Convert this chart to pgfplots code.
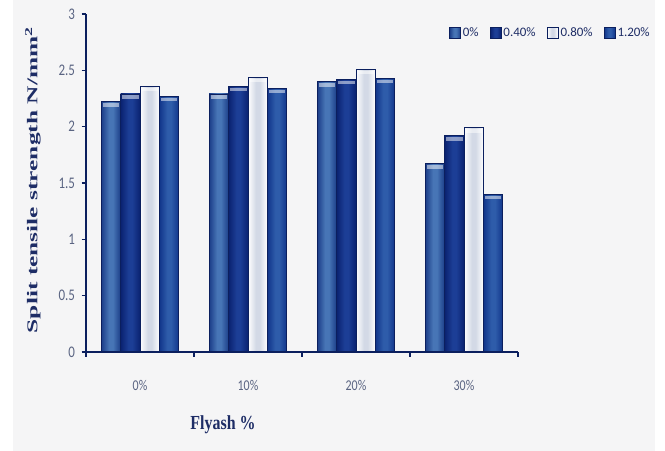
\documentclass[border=0pt]{standalone}
\usepackage{pgfplots}
\usepackage{pgfplotstable}
\pgfplotsset{compat=1.18}
\usepackage{fontspec}
\setmainfont{Liberation Serif}
\newfontfamily\calib{Carlito}

\definecolor{navy}{HTML}{0B1F5E}
\definecolor{bgray}{HTML}{F5F5F6}
\definecolor{labcol}{HTML}{1E2D66}
\definecolor{tickcol}{HTML}{5A6482}
% bar colours: edge / centre
\definecolor{aEdge}{HTML}{1B3D88}
\definecolor{aMid}{HTML}{4775B6}
\definecolor{bEdge}{HTML}{0A2270}
\definecolor{bMid}{HTML}{1C3E96}
\definecolor{cEdge}{HTML}{FFFFFF}
\definecolor{cMid}{HTML}{D3D9E6}
\definecolor{dEdge}{HTML}{11358A}
\definecolor{dMid}{HTML}{2E5CAA}

% the visible part of a shading is its central 25bp..75bp band
\pgfdeclarehorizontalshading{shA}{100bp}{color(0bp)=(aEdge); color(25bp)=(aEdge); color(45bp)=(aMid); color(55bp)=(aMid); color(75bp)=(aEdge); color(100bp)=(aEdge)}
\pgfdeclarehorizontalshading{shB}{100bp}{color(0bp)=(bEdge); color(25bp)=(bEdge); color(45bp)=(bMid); color(55bp)=(bMid); color(75bp)=(bEdge); color(100bp)=(bEdge)}
\pgfdeclarehorizontalshading{shC}{100bp}{color(0bp)=(cEdge); color(25bp)=(cEdge); color(45bp)=(cMid); color(55bp)=(cMid); color(75bp)=(cEdge); color(100bp)=(cEdge)}
\pgfdeclarehorizontalshading{shD}{100bp}{color(0bp)=(dEdge); color(25bp)=(dEdge); color(45bp)=(dMid); color(55bp)=(dMid); color(75bp)=(dEdge); color(100bp)=(dEdge)}

% split tensile strength per fly ash level (0,10,20,30 %), one table per fibre content
\pgfplotstableread{
x y
0 2.22
1 2.29
2 2.40
3 1.67
}\dataA
\pgfplotstableread{
x y
0 2.29
1 2.36
2 2.42
3 1.92
}\dataB
\pgfplotstableread{
x y
0 2.36
1 2.44
2 2.51
3 1.99
}\dataC
\pgfplotstableread{
x y
0 2.27
1 2.34
2 2.43
3 1.40
}\dataD

% light band just under the top edge of a bar (basic-layer drawing)
\newcommand\barcap{%
  \pgfsetfillcolor{white}\pgfsetfillopacity{0.5}%
  \pgfpathrectanglecorners
    {\pgfpointadd{\pgfpointanchor{path picture bounding box}{north west}}{\pgfpoint{1.5bp}{-1.5bp}}}%
    {\pgfpointadd{\pgfpointanchor{path picture bounding box}{north east}}{\pgfpoint{-1.5bp}{-5bp}}}%
  \pgfusepath{fill}}

\pgfplotsset{
  sqlegend/.style={legend image code/.code={%
    \draw[##1, draw=navy, line width=0.8bp] (0bp,-5.5bp) rectangle (11bp,5.5bp);}},
  cbar/.style={ybar, bar width=19.4bp, draw=navy, line width=0.9bp, shade,
    path picture={\barcap}},
}
% one bar per category, so that each bar gets its own shading
\newcommand\barseries[3]{%
  \pgfplotsinvokeforeach{0,1,2,3}{%
    \addplot[cbar, shading=#2, bar shift=#3, forget plot,
      restrict x to domain=##1:##1] table {#1};}}

\begin{document}
\begin{tikzpicture}
\path[use as bounding box, fill=white] (0,0) rectangle (665bp,451bp);
\fill[bgray] (13bp,0) rectangle (655bp,451bp);
\begin{axis}[
  at={(86bp,99bp)}, anchor=south west,
  scale only axis, width=432bp, height=338bp,
  xmin=-0.5, xmax=3.5, ymin=0, ymax=3,
  axis on top,
  axis x line*=bottom, axis y line*=left,
  axis line style={navy, line width=1.4bp},
  xtick={-0.5,0.5,1.5,2.5,3.5},
  x tick label as interval,
  xticklabels={0\%,10\%,20\%,30\%,},
  ytick={0,0.5,1,1.5,2,2.5,3},
  tick align=outside,
  major tick length=4.5bp,
  tick style={navy, line width=1.1bp},
  /pgf/number format/assume math mode=true,
  yticklabel style={font=\calib\fontsize{13}{13}\selectfont, text=tickcol, yscale=1.25, xshift=-3bp},
  xticklabel style={font=\calib\fontsize{12}{12}\selectfont, text=tickcol, yscale=1.25, anchor=center, yshift=-23bp},
  legend columns=4,
  legend style={at={(1.31,0.944)}, anchor=east, draw=none, fill=none,
    font=\calib\fontsize{13}{13}\selectfont, text=labcol, inner sep=0pt,
    /tikz/every even column/.append style={column sep=9bp}},
]
\barseries{\dataA}{shA}{-29.1bp}
\barseries{\dataB}{shB}{-9.7bp}
\barseries{\dataC}{shC}{9.7bp}
\barseries{\dataD}{shD}{29.1bp}
\addlegendimage{sqlegend, shade, shading=shA}
\addlegendentry{0\%}
\addlegendimage{sqlegend, shade, shading=shB}
\addlegendentry{0.40\%}
\addlegendimage{sqlegend, shade, shading=shC}
\addlegendentry{0.80\%}
\addlegendimage{sqlegend, shade, shading=shD}
\addlegendentry{1.20\%}
\end{axis}
\node[rotate=90, xscale=1.7, font=\bfseries\fontsize{15}{15}\selectfont, text=labcol]
  at (33bp,271bp) {Split tensile strength N/mm\textsuperscript{2}};
\node[yscale=1.25, font=\bfseries\fontsize{16}{16}\selectfont, text=labcol]
  at (223bp,26bp) {Flyash \%};
\end{tikzpicture}
\end{document}
